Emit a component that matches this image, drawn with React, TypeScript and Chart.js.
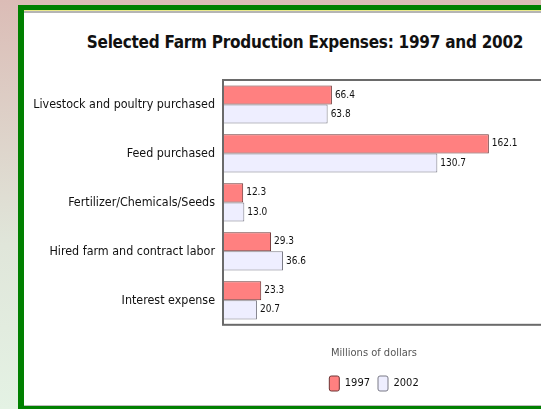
import React, { useEffect, useRef } from 'react';
import { Chart, registerables } from 'chart.js';

Chart.register(...registerables);

const chartTitle = 'Selected Farm Production Expenses: 1997 and 2002';
const axisTitle = 'Millions of dollars';
const categories = [
  'Livestock and poultry purchased',
  'Feed purchased',
  'Fertilizer/Chemicals/Seeds',
  'Hired farm and contract labor',
  'Interest expense',
];
const seriesNames = ['1997', '2002'];
const values1997 = [66.4, 162.1, 12.3, 29.3, 23.3];
const values2002 = [63.8, 130.7, 13.0, 36.6, 20.7];

const FAMILY = "'DejaVu Sans', sans-serif";

const framePlugin = {
  id: 'plotFrame',
  afterLayout(chart: any) {
    const lg = chart.legend;
    if (lg) {
      lg.left = chart.chartArea.left - 26;
      lg.width = lg.right - lg.left;
    }
  },
  afterDraw(chart: any) {
    const { ctx, chartArea } = chart;
    ctx.save();
    ctx.strokeStyle = '#6a6a6a';
    ctx.lineWidth = 2;
    ctx.strokeRect(chartArea.left, chartArea.top, chartArea.right - chartArea.left, chartArea.bottom - chartArea.top);
    ctx.restore();
  },
};

const valueLabelPlugin = {
  id: 'valueLabels',
  afterDatasetsDraw(chart: any) {
    const { ctx } = chart;
    ctx.save();
    ctx.font = `condensed 10px ${FAMILY}`;
    ctx.fillStyle = '#111';
    ctx.textAlign = 'left';
    ctx.textBaseline = 'middle';
    chart.data.datasets.forEach((ds: any, i: number) => {
      const meta = chart.getDatasetMeta(i);
      meta.data.forEach((el: any, j: number) => {
        const v = ds.data[j] as number;
        ctx.fillText(v.toFixed(1), el.x + 3, el.y);
      });
    });
    ctx.restore();
  },
};

export default function App() {
  const ref = useRef<HTMLCanvasElement | null>(null);

  useEffect(() => {
    if (!ref.current) return;
    const chart = new Chart(ref.current, {
      type: 'bar',
      data: {
        labels: categories,
        datasets: [
          {
            label: seriesNames[0],
            data: values1997,
            backgroundColor: '#ff8080',
            borderColor: '#6e3434',
            borderWidth: 1,
            categoryPercentage: 0.78,
            barPercentage: 1,
          },
          {
            label: seriesNames[1],
            data: values2002,
            backgroundColor: '#eeeeff',
            borderColor: '#7a7a86',
            borderWidth: 1,
            categoryPercentage: 0.78,
            barPercentage: 1,
          },
        ],
      },
      options: {
        indexAxis: 'y',
        responsive: false,
        animation: false,
        devicePixelRatio: 1,
        layout: { padding: { left: 24, right: 9, top: 80, bottom: 8 } },
        scales: {
          x: { display: false, min: 0, max: 200 },
          y: {
            grid: { display: false, drawTicks: false },
            border: { display: false },
            ticks: {
              padding: 8,
              color: '#111',
              font: { family: FAMILY, size: 12.4, weight: 'condensed' as any },
            },
            afterFit(scale: any) {
              scale.width = 199;
            },
          },
        },
        plugins: {
          title: { display: false },
          tooltip: { enabled: false },
          legend: {
            display: true,
            position: 'bottom',
            title: {
              display: true,
              text: axisTitle,
              color: '#555',
              font: { family: FAMILY, size: 11, weight: 'condensed' as any },
              padding: { top: 23, bottom: 7 },
            },
            labels: {
              boxWidth: 10,
              boxHeight: 15,
              padding: 8,
              color: '#111',
              useBorderRadius: true,
              borderRadius: 2,
              font: { family: FAMILY, size: 11, weight: 'condensed' as any },
            },
          },
        },
      },
      plugins: [framePlugin, valueLabelPlugin],
    } as any);
    return () => chart.destroy();
  }, []);

  return (
    <div
      style={{
        position: 'fixed',
        left: 0,
        top: 0,
        width: 541,
        height: 409,
        overflow: 'hidden',
        background: 'linear-gradient(to bottom, #dbbcb6 0%, #e0e6da 60%, #e4f2e4 100%)',
      }}
    >
      <div style={{ position: 'absolute', left: 18, top: 5, width: 560, height: 404, background: '#008000' }} />
      <div style={{ position: 'absolute', left: 24, top: 10, width: 560, height: 396, background: '#ffffff' }} />
      <div style={{ position: 'absolute', left: 24, top: 10, width: 560, height: 1, background: '#e9e98c' }} />
      <div style={{ position: 'absolute', left: 24, top: 11, width: 560, height: 2, background: '#b4b4b4' }} />
      <div style={{ position: 'absolute', left: 24, top: 405, width: 560, height: 1, background: '#bdbdbd' }} />
      <div
        style={{
          position: 'absolute',
          left: 0,
          top: 30,
          width: 610,
          textAlign: 'center',
          fontFamily: FAMILY,
          fontStretch: 'condensed',
          fontWeight: 'bold',
          fontSize: 17,
          letterSpacing: '-0.25px',
          lineHeight: '24px',
          color: '#111',
        }}
      >
        {chartTitle}
      </div>
      <canvas ref={ref} width={560} height={409} style={{ position: 'absolute', left: 0, top: 0 }} />
    </div>
  );
}
